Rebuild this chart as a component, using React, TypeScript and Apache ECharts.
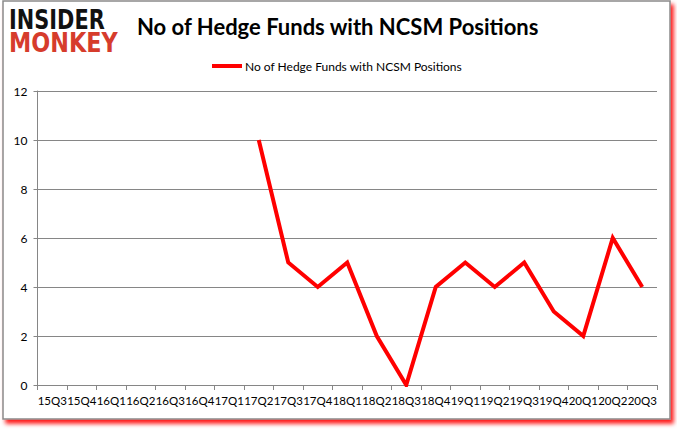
import React, { useEffect, useRef } from "react";
import * as echarts from "echarts";

const categories = ["15Q3","15Q4","16Q1","16Q2","16Q3","16Q4","17Q1","17Q2","17Q3","17Q4","18Q1","18Q2","18Q3","18Q4","19Q1","19Q2","19Q3","19Q4","20Q1","20Q2","20Q3"];
const hedgeFunds: (number | null)[] = [null,null,null,null,null,null,null,10,5,4,5,2,0,4,5,4,5,3,2,6,4];
const seriesName = "No of Hedge Funds with NCSM Positions";
const titleText = "No of Hedge Funds with NCSM Positions";

export default function App() {
  const ref = useRef<HTMLDivElement>(null);
  useEffect(() => {
    document.body.style.margin = "0";
    const chart = echarts.init(ref.current!, null, { renderer: "svg" });
    const font = "Lato, 'Open Sans', sans-serif";
    const logoFont = "900 27px 'DejaVu Sans Condensed', 'DejaVu Sans', sans-serif";
    chart.setOption({
      animation: false,
      backgroundColor: "#ffffff",
      graphic: [
        {
          type: "rect",
          shape: { x: 3, y: 1, width: 667, height: 418 },
          style: { fill: "#ffffff", stroke: "#8a8a8a", lineWidth: 1.5, shadowColor: "rgba(255,0,0,0.9)", shadowBlur: 4, shadowOffsetX: 3, shadowOffsetY: 4 },
          z: -10,
        },
        {
          type: "text", x: 9, y: 6, scaleX: 0.86, scaleY: 1,
          style: { text: "INSIDER", fill: "#111111", font: logoFont, textVerticalAlign: "top" },
        },
        {
          type: "text", x: 9, y: 29, scaleX: 0.92, scaleY: 1,
          style: { text: "MONKEY", fill: "#d63c2c", font: logoFont, textVerticalAlign: "top" },
        },
      ],
      title: {
        text: titleText,
        left: 132, top: 10,
        textStyle: { fontFamily: font, fontSize: 22, fontWeight: "bold", color: "#000000" },
      },
      legend: {
        top: 55, left: 207,
        itemWidth: 30, itemHeight: 4, itemGap: 5,
        icon: "rect",
        textStyle: { fontFamily: font, fontSize: 12, color: "#000000", padding: [0, 0, 0, -2] },
        data: [seriesName],
      },
      grid: { left: 37.5, right: 20, top: 91, bottom: 46, containLabel: false },
      xAxis: {
        type: "category",
        data: categories,
        boundaryGap: true,
        axisLine: { lineStyle: { color: "#868686", width: 1 } },
        axisTick: { show: true, alignWithLabel: false, length: 5, lineStyle: { color: "#868686" } },
        axisLabel: { interval: 0, fontFamily: font, fontSize: 11.5, color: "#000000", margin: 9 },
        splitLine: { show: false },
      },
      yAxis: {
        type: "value",
        min: 0, max: 12, interval: 2,
        axisLine: { show: true, lineStyle: { color: "#868686", width: 1 } },
        axisTick: { show: true, length: 4, lineStyle: { color: "#868686" } },
        axisLabel: { fontFamily: font, fontSize: 12, color: "#000000", margin: 10 },
        splitLine: { show: true, lineStyle: { color: "#868686", width: 1 } },
      },
      series: [
        {
          name: seriesName,
          type: "line",
          data: hedgeFunds,
          showSymbol: false,
          symbol: "none",
          connectNulls: false,
          lineStyle: { color: "#ff0000", width: 4, join: "miter" },
          itemStyle: { color: "#ff0000" },
        },
      ],
    });
    return () => chart.dispose();
  }, []);
  return <div ref={ref} style={{ width: 677, height: 431 }} />;
}
